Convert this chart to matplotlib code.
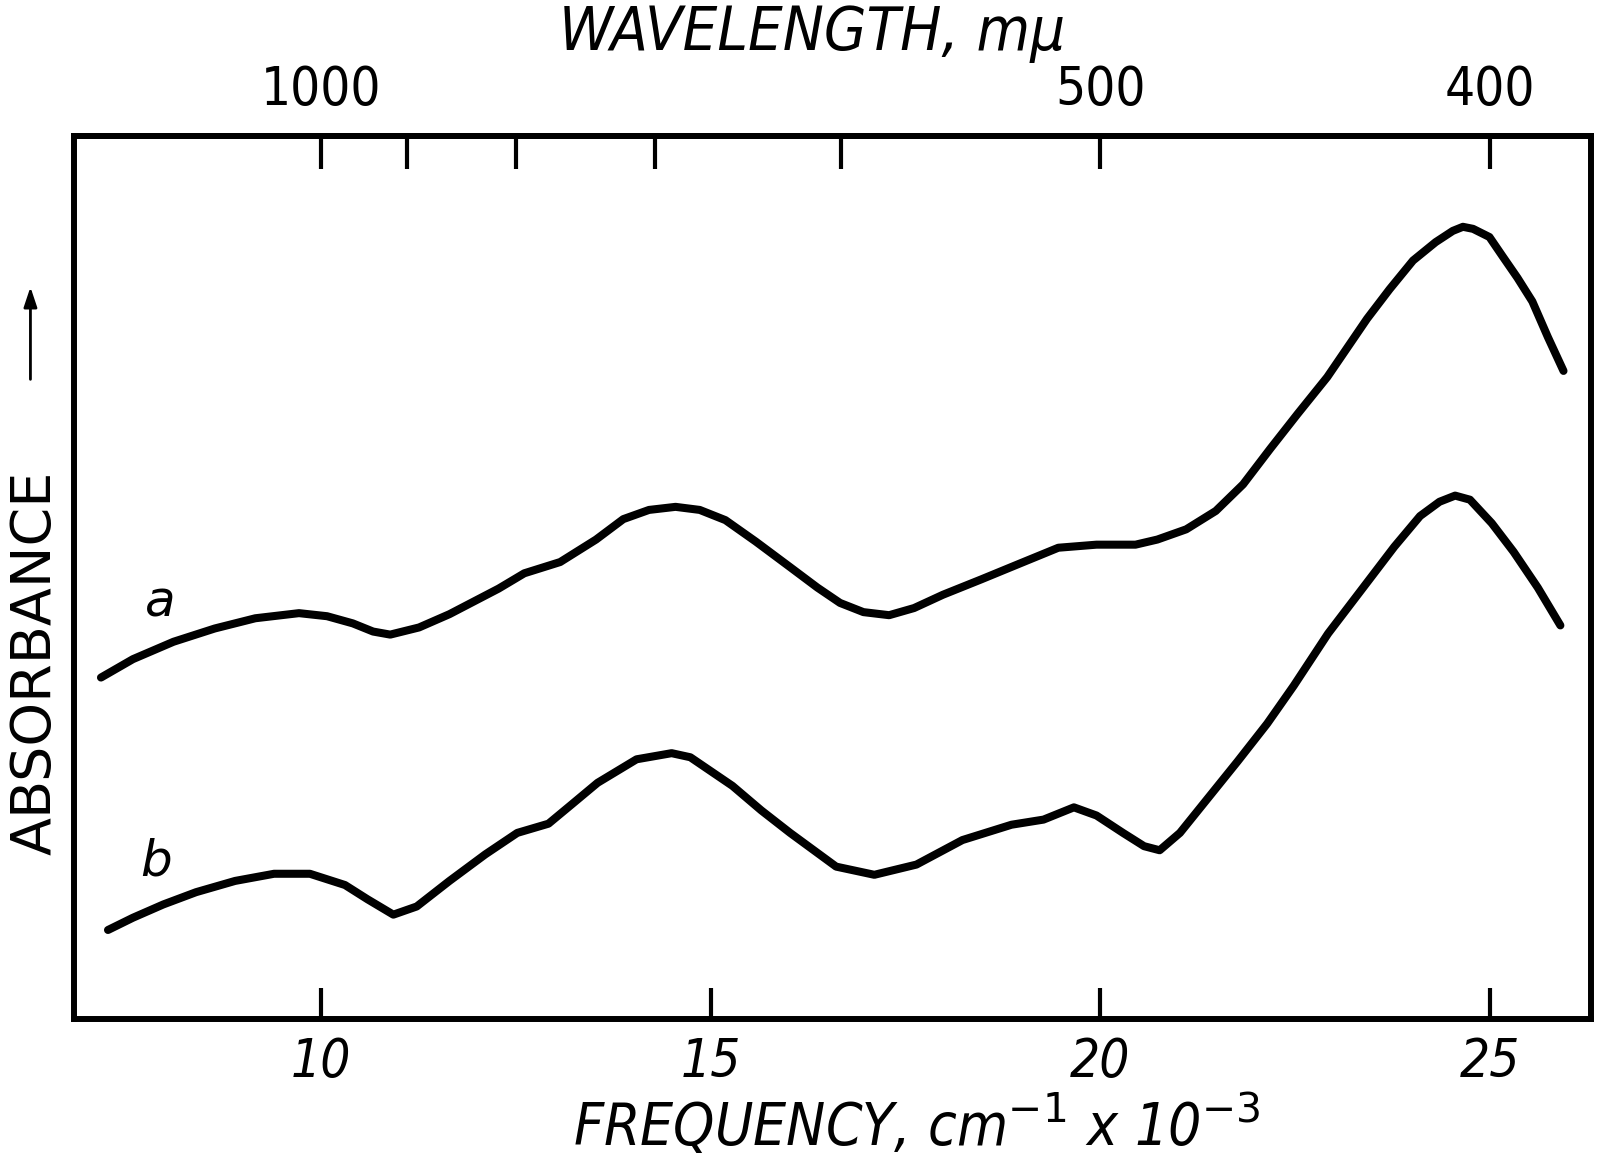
import numpy as np
import matplotlib
matplotlib.use("Agg")
import matplotlib.pyplot as plt

# frequency in cm^-1 x 10^-3, absorbance in arbitrary units
freq_a = [7.18, 7.59, 8.11, 8.64, 9.16, 9.72, 10.08, 10.41, 10.67, 10.89, 11.26, 11.65,
          12.28, 12.61, 13.07, 13.53, 13.88, 14.21, 14.55, 14.86, 15.19, 15.58, 16.02,
          16.37, 16.66, 16.96, 17.29, 17.61, 17.98, 18.47, 18.98, 19.46, 19.95, 20.45,
          20.73, 21.10, 21.48, 21.83, 22.18, 22.53, 22.91, 23.42, 23.71, 24.01, 24.30,
          24.52, 24.65, 24.78, 24.99, 25.16, 25.35, 25.54, 25.74, 25.94]
abs_a = [3.34, 3.52, 3.69, 3.82, 3.92, 3.97, 3.94, 3.87, 3.79, 3.76, 3.83, 3.96,
         4.21, 4.36, 4.47, 4.69, 4.89, 4.98, 5.01, 4.98, 4.88, 4.67, 4.42,
         4.22, 4.07, 3.98, 3.95, 4.02, 4.15, 4.30, 4.46, 4.61, 4.64, 4.64,
         4.69, 4.79, 4.97, 5.23, 5.58, 5.92, 6.28, 6.85, 7.14, 7.42, 7.60,
         7.71, 7.75, 7.73, 7.65, 7.46, 7.25, 7.02, 6.67, 6.34]

freq_b = [7.27, 7.59, 7.98, 8.40, 8.90, 9.40, 9.86, 10.31, 10.60, 10.93, 11.23, 11.65,
          12.11, 12.52, 12.92, 13.22, 13.55, 14.05, 14.50, 14.74, 15.28, 15.65, 16.02,
          16.61, 17.10, 17.64, 18.23, 18.86, 19.27, 19.66, 19.95, 20.29, 20.56, 20.76,
          21.02, 21.39, 21.76, 22.14, 22.48, 22.92, 23.42, 23.77, 24.10, 24.35, 24.55,
          24.74, 25.02, 25.30, 25.61, 25.90]
abs_b = [0.87, 0.99, 1.12, 1.24, 1.35, 1.42, 1.42, 1.31, 1.17, 1.02, 1.10, 1.35,
         1.61, 1.82, 1.91, 2.10, 2.31, 2.54, 2.60, 2.56, 2.28, 2.04, 1.82,
         1.49, 1.41, 1.51, 1.75, 1.90, 1.95, 2.07, 1.99, 1.82, 1.69, 1.65,
         1.82, 2.17, 2.52, 2.89, 3.26, 3.77, 4.27, 4.62, 4.92, 5.06, 5.12,
         5.08, 4.85, 4.57, 4.22, 3.85]

freq_ticks = [10, 15, 20, 25]
wl_ticks = [1000, 900, 800, 700, 600, 500, 400]
wl_labels = ["1000", "", "", "", "", "500", "400"]

COND = dict(family="DejaVu Sans", stretch="condensed")

fig = plt.figure(figsize=(16.02, 11.65), dpi=100)
ax = fig.add_axes([0.046, 0.1254, 0.947, 0.758])

for fr, ab in [(freq_a, abs_a), (freq_b, abs_b)]:
    ax.plot(fr, ab, color="black", lw=5.8, solid_capstyle="round", solid_joinstyle="round")

ax.text(7.94, 4.07, "a", fontsize=36, style="italic", ha="center", va="center")
ax.text(7.89, 1.54, "b", fontsize=36, style="italic", ha="center", va="center")

ax.set_xlim(6.83, 26.29)
ax.set_ylim(0, 8.64)
ax.set_yticks([])
ax.set_xticks(freq_ticks)
ax.set_xticklabels([str(t) for t in freq_ticks], fontsize=38, style="italic", **COND)
ax.tick_params(axis="x", direction="in", length=22, width=3, pad=12)
for s in ax.spines.values():
    s.set_linewidth(4.3)


def f2w(f):
    f = np.asarray(f, dtype=float)
    with np.errstate(divide="ignore"):
        return 1e4 / f


top = ax.secondary_xaxis("top", functions=(f2w, f2w))
top.set_xticks(wl_ticks)
top.set_xticklabels(wl_labels, fontsize=38, **COND)
top.tick_params(axis="x", direction="in", length=24, width=3, pad=14)
top.spines["top"].set_linewidth(4.3)

fig.text(0.507, 0.957, "WAVELENGTH, m\u03bc", fontsize=44, style="italic",
         ha="center", va="baseline", **COND)
fig.text(0.572, 0.016, r"FREQUENCY, cm$^{-1}$ x 10$^{-3}$", fontsize=42, style="italic",
         ha="center", va="baseline", **COND)
fig.text(0.022, 0.431, "ABSORBANCE", fontsize=40, rotation=90, ha="center", va="center")
fig.add_artist(matplotlib.patches.FancyArrowPatch(
    (0.019, 0.672), (0.019, 0.756), transform=fig.transFigure,
    arrowstyle="-|>,head_length=12,head_width=4", lw=2, color="black"))

fig.savefig("out.png", dpi=100, facecolor="white")
